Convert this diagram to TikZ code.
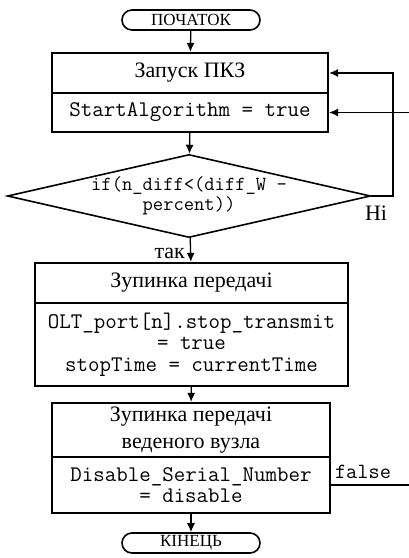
\documentclass[tikz,border=0pt]{standalone}
\usepackage{fontspec}
\setmainfont{Liberation Serif}
\usetikzlibrary{shapes.geometric,shapes.misc,arrows.meta}

\tikzset{
  term/.style={draw, rounded rectangle, line width=1.6pt, minimum width=138pt,
    minimum height=20pt, inner sep=0pt, font=\fontsize{17}{20}\selectfont},
  titlebox/.style={draw, line width=2.2pt, inner sep=0pt, align=center,
    font=\fontsize{22}{27}\selectfont},
  codebox/.style={draw, line width=2.2pt, inner sep=0pt, align=center,
    font=\ttfamily\fontsize{22.3}{21.5}\selectfont},
  cond/.style={draw, diamond, line width=1.6pt, shape aspect=4.37, inner sep=0pt,
    minimum width=358pt, minimum height=82pt, align=center,
    font=\ttfamily\fontsize{20}{20}\selectfont},
  lbl/.style={inner sep=1pt, font=\fontsize{22}{26}\selectfont},
  flow/.style={line width=1.3pt, -{Latex[length=9pt,width=8pt]}}
}

\begin{document}
\begin{tikzpicture}[x=1pt, y=-1pt]
\useasboundingbox (0,0) rectangle (408,558);
\node [term] (start) at (191,20) {ПОЧАТОК};
\node [titlebox, minimum width=276pt, minimum height=40pt] (b1t) at (190,73) {Запуск ПКЗ};
\node [codebox, minimum width=276pt, minimum height=39pt] (b1c) at (190,112.5) {StartAlgorithm = true};
\node [cond] (dia) at (189,196) {if(n\_diff<(diff\_W -\\percent))};
\node [titlebox, minimum width=313pt, minimum height=40pt] (b2t) at (191.5,283) {Зупинка передачі};
\node [codebox, minimum width=313pt, minimum height=83pt] (b2c) at (191.5,344.5) {OLT\_port[n].stop\_transmit\\= true\\stopTime = currentTime};
\node [titlebox, minimum width=278pt, minimum height=54pt] (b3t) at (191,430) {Зупинка передачі\\веденого вузла};
\node [codebox, minimum width=278pt, minimum height=56pt] (b3c) at (191,485) {Disable\_Serial\_Number\\= disable};
\node [term] (end) at (191,543) {КІНЕЦЬ};
\coordinate (nr) at (393,196);
\coordinate (fr) at (420,487);
% main flow
\draw [flow] (start) -- (b1t);
\draw [flow] (b1c) -- (dia);
\draw [flow] (dia) -- node [lbl, left=4pt, yshift=-3pt] {так} (b2t);
\draw [flow] (b2c) -- (b3t);
\draw [flow] (b3c) -- (end);
% loops back
\draw [flow] (dia.east) -- (nr) |- (b1t.east);
\node [lbl] (no) at (376,213) {Ні};
\draw [flow] (b3c.east) -- (b3c.east -| fr) |- (b1c.east);
\node [lbl, font=\ttfamily\fontsize{21.7}{22}\selectfont] (fl) at (363,472) {false};
\end{tikzpicture}
\end{document}
